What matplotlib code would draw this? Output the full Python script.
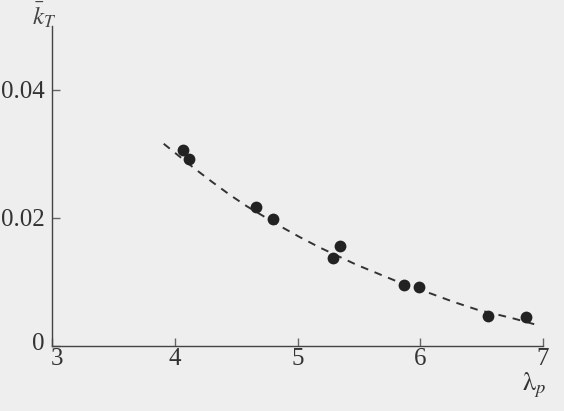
import matplotlib
matplotlib.use("Agg")
import matplotlib.pyplot as plt
from matplotlib.transforms import ScaledTranslation

# Measured points
lam_p = [4.07, 4.12, 4.66, 4.80, 5.29, 5.35, 5.87, 5.99, 6.55, 6.86]
k_T = [0.0306, 0.0292, 0.0217, 0.0198, 0.0138, 0.0156, 0.0095, 0.0092, 0.0047, 0.0045]

# Dashed fit curve
curve_x = [3.91, 4.15, 4.30, 4.45, 4.59, 4.87, 5.02, 5.18, 5.48, 5.67, 5.81, 6.10, 6.27, 6.46, 6.76, 6.93]
curve_y = [0.0316, 0.0279, 0.0257, 0.0236, 0.0218, 0.0186, 0.0170, 0.0154, 0.0127, 0.0112, 0.0101, 0.0081, 0.0069, 0.0057, 0.0043, 0.0034]

x_ticks = [3, 4, 5, 6, 7]
x_ticklabels = ["3", "4", "5", "6", "7"]
y_ticks = [0, 0.02, 0.04]
y_ticklabels = ["0", "0.02", "0.04"]

plt.rcParams['font.family'] = ['Liberation Serif', 'DejaVu Serif']
plt.rcParams['mathtext.fontset'] = 'stix'

fig = plt.figure(figsize=(5.64, 4.11), dpi=100, facecolor='#eeeeee')
ax = fig.add_axes([52/564, 65/411, 491/564, 320/411])
ax.set_facecolor('#eeeeee')

ax.plot(curve_x, curve_y, linestyle=(0, (4, 3.5)), color='#333333', lw=1.4)
ax.plot(lam_p, k_T, 'o', color='#222222', markersize=8.5, markeredgewidth=0)

ax.set_xlim(3, 7)
ax.set_ylim(0, 0.05)
ax.spines['top'].set_visible(False)
ax.spines['right'].set_visible(False)
for s in ('left', 'bottom'):
    ax.spines[s].set_color('#444444')
    ax.spines[s].set_linewidth(1.0)

ax.set_xticks(x_ticks)
ax.set_xticklabels(x_ticklabels)
ax.set_yticks(y_ticks)
ax.set_yticklabels(y_ticklabels)
ax.tick_params(direction='in', length=5.5, width=1, color='#666666',
               labelsize=18, labelcolor='#333333')
ax.tick_params(axis='x', pad=1.5)
ax.tick_params(axis='y', pad=5)

# nudge the corner labels apart as in the original
xl = ax.get_xticklabels()
xl[0].set_transform(xl[0].get_transform() + ScaledTranslation(5/100, 0, fig.dpi_scale_trans))
yl = ax.get_yticklabels()
yl[0].set_transform(yl[0].get_transform() + ScaledTranslation(-1/100, 5/100, fig.dpi_scale_trans))

fig.text(44/564, 1 - 15/411, r'$\bar{k}_T$', fontsize=18, color='#444444',
         ha='center', va='center')
fig.text(534/564, 1 - 385/411, r'$\mathrm{\lambda}_p$', fontsize=19, color='#333333',
         ha='center', va='center')

fig.savefig('out.png', dpi=100, facecolor=fig.get_facecolor())
